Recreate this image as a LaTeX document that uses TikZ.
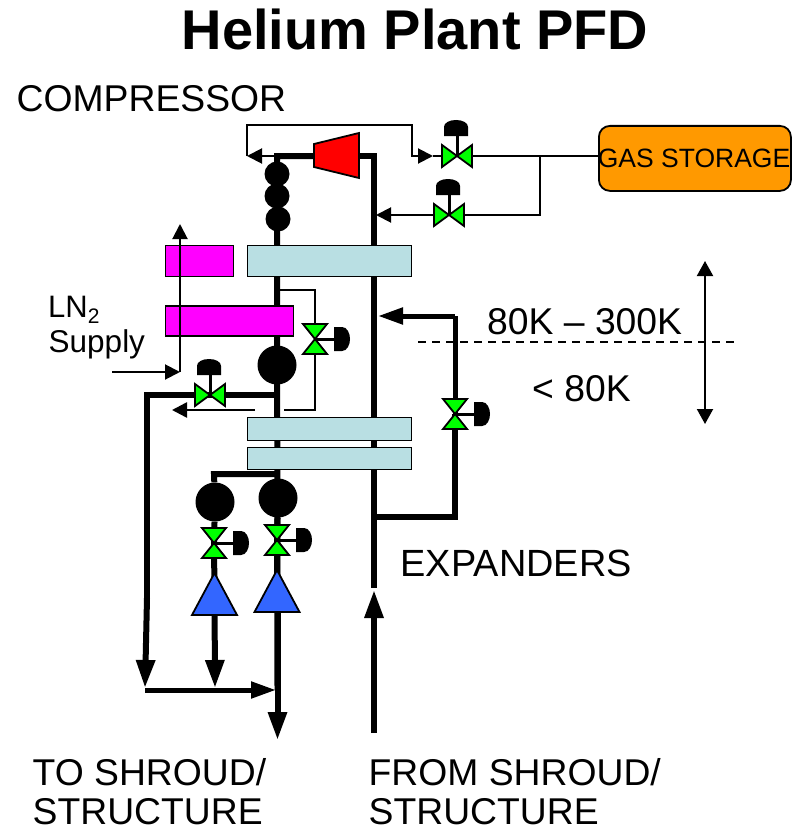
\documentclass[tikz,border=0pt]{standalone}
\usepackage{fontspec}
\setmainfont{Liberation Sans}
\usetikzlibrary{arrows.meta,backgrounds}
\definecolor{hx}{HTML}{B9DFE3}
\definecolor{mag}{HTML}{FF00FF}
\definecolor{stor}{HTML}{FF9900}
\definecolor{vgreen}{HTML}{00FF00}
\definecolor{exblue}{HTML}{3366FF}
\tikzset{
  x=1pt,y=-1pt,
  pipe/.style={line width=6pt,line join=miter,black},
  midpipe/.style={line width=5pt,line join=miter,black},
  thinpipe/.style={line width=2pt,line join=miter,black},
  headS/.style={-{Triangle[length=15pt,width=15pt]}},
  headL/.style={-{Triangle[length=28pt,width=18pt]}},
  headM/.style={-{Triangle[length=25pt,width=16pt]}},
  box/.style={draw=black,line width=1.8pt,inner sep=0pt,anchor=north west},
  hxbox/.style={box,fill=hx,minimum width=164pt},
  magbox/.style={box,fill=mag},
  drum/.style={circle,fill=black,inner sep=0pt},
  label/.style={anchor=base west,inner sep=0pt,font=\fontsize{37.3}{40}\selectfont},
  valveh/.pic={
    \draw[line width=3pt] (0,0)--(0,-22);
    \fill (-13,-20)--(-13,-29) .. controls (-13,-33) and (-8,-36) .. (-1,-36) .. controls (6,-36) and (11,-33) .. (11,-29)--(11,-20)--cycle;
    \draw[fill=vgreen,line width=1.8pt,line join=miter] (-15,-11)--(15,11)--(15,-11)--(-15,11)--cycle;
    \draw[line width=2pt] (0,-4)--(0,0);
  },
  valvev/.pic={
    \draw[line width=3pt] (0,0)--(21,0);
    \fill (19,-12)--(27,-12) .. controls (32,-12) and (35,-6) .. (35,0) .. controls (35,6) and (32,12) .. (27,12)--(19,12)--cycle;
    \draw[fill=vgreen,line width=1.8pt,line join=miter] (-12,-15)--(12,15)--(-12,15)--(12,-15)--cycle;
  },
  expander/.pic={
    \draw[fill=exblue,line width=1.8pt,line join=miter] (0,-21)--(22.5,21)--(-22.5,21)--cycle;
  },
}
\begin{document}
\begin{tikzpicture}
\useasboundingbox (0,0) rectangle (796,832);
% text
\node[anchor=base,inner sep=0pt,font=\fontsize{56}{60}\selectfont\bfseries] (title) at (415,50) {Helium Plant PFD};
\node[label] (tcomp) at (16.5,112) {COMPRESSOR};
\node[label] (ttemp1) at (487,334) {80K – 300K};
\node[label] (ttemp2) at (532,401) {< 80K};
\node[label,font=\fontsize{37.9}{40}\selectfont] (texp) at (400.5,576) {EXPANDERS};
\node[label] (tto1) at (32.5,785) {TO SHROUD/};
\node[label] (tto2) at (32.5,824) {STRUCTURE};
\node[label] (tfrom1) at (368.5,785) {FROM SHROUD/};
\node[label] (tfrom2) at (368.5,824) {STRUCTURE};
\node[anchor=base west,inner sep=0pt,font=\fontsize{31}{34}\selectfont] (tln) at (48,317) {LN\raisebox{-6pt}{\fontsize{21}{24}\selectfont 2}};
\node[anchor=base west,inner sep=0pt,font=\fontsize{31.5}{34}\selectfont] (tsup) at (48.5,352) {Supply};
% equipment
\node[box,fill=stor,rounded corners=11pt,minimum width=192pt,minimum height=65pt] (gas) at (598,125) {};
\node[anchor=base,inner sep=0pt,font=\fontsize{26.5}{28}\selectfont] (tgas) at (694,167) {GAS STORAGE};
\node[hxbox,minimum height=31pt] (hx1) at (246.5,244.5) {};
\node[hxbox,minimum height=23pt] (hx2) at (246.5,416.5) {};
\node[hxbox,minimum height=22pt] (hx3) at (246.5,446.5) {};
\node[magbox,minimum width=68pt,minimum height=31pt] (mg1) at (164.5,244.5) {};
\node[magbox,minimum width=128pt,minimum height=30pt] (mg2) at (164.5,305) {};
\node[drum,minimum size=25pt] (c1) at (277,174) {};
\node[drum,minimum size=25pt] (c2) at (277,196) {};
\node[drum,minimum size=25pt] (c3) at (278,219) {};
\node[drum,minimum size=39pt] (c4) at (277,365) {};
\node[drum,minimum size=39pt] (c5) at (215,502) {};
\node[drum,minimum size=39pt] (c6) at (278,498) {};
\draw[fill=red,line width=1.8pt,line join=miter] (314,144)--(359,133)--(359,178)--(314,167)--cycle;
\coordinate (compL) at (314,156);
\coordinate (compR) at (359,156);
\coordinate (v1) at (457,156);
\coordinate (v2) at (449,215);
\coordinate (v3) at (315,339);
\coordinate (v4) at (210,395);
\coordinate (v5) at (455,414);
\coordinate (v6) at (214,543);
\coordinate (v7) at (277,540);
\coordinate (e1) at (214.5,594);
\coordinate (e2) at (277,591);
\pic at (e1) {expander};
\pic at (e2) {expander};
\pic at (v1) {valveh};
\pic at (v2) {valveh};
\pic at (v4) {valveh};
\pic at (v3) {valvev};
\pic at (v5) {valvev};
\pic at (v6) {valvev};
\pic at (v7) {valvev};
% junction coordinates
\coordinate (topL) at (277,156);
\coordinate (topR) at (374,156);
\coordinate (mainEnd) at (374,588);
\coordinate (fromB) at (374,733);
\coordinate (fromT) at (374,590);
\coordinate (toB) at (277.5,740);
\coordinate (j395) at (277,395);
\coordinate (k395) at (147,395);
\coordinate (k598) at (147,598);
\coordinate (k687) at (145,688);
\coordinate (j474) at (277,474);
\coordinate (k474) at (214,474);
\coordinate (bL) at (145,690);
\coordinate (bR) at (276,690);
\coordinate (b2) at (215,688);
\coordinate (xj) at (374,517);
\coordinate (xc) at (455,517);
\coordinate (xt) at (455,316);
\coordinate (xa) at (378,316);
\coordinate (lpA) at (278,156);
\coordinate (lpB) at (247,156);
\coordinate (lpC) at (247,125);
\coordinate (lpD) at (412,125);
\coordinate (lpE) at (412,156);
\coordinate (lpF) at (433,156);
\coordinate (gj) at (540,156);
\coordinate (gk) at (540,215);
\coordinate (ga2) at (376,215);
\coordinate (ln0) at (112,372);
\coordinate (ln1) at (180,372);
\coordinate (ln2) at (180,224);
\coordinate (bp1) at (280,290);
\coordinate (bp2) at (315,290);
\coordinate (bp3) at (315,410);
\coordinate (bp4) at (284,410);
\coordinate (ba1) at (255,410);
\coordinate (ba2) at (172,410);
\coordinate (dL) at (418,342);
\coordinate (dR) at (735,342);
\coordinate (tA) at (705,261);
\coordinate (tB) at (705,424);
% pipes behind the equipment
\begin{scope}[on background layer]
  \draw[pipe] (compL)--(topL)--(toB |- bR);
  \draw[pipe] (compR)--(topR)--(mainEnd);
  \draw[pipe] (j395)--(k395)--(k598);
  \draw[pipe,headL] (k598)--(k687);
  \draw[pipe] (j474)--(k474)--(c5);
  \draw[pipe] (c5)--(v6)--(e1);
  \draw[pipe] (c6)--(v7)--(e2);
  \draw[pipe,headL] (e1)--(b2);
  \draw[pipe,headL] (toB |- e2)--(toB);
  \draw[pipe,headL] (fromB)--(fromT);
  \draw[pipe] (xj)--(xc)--(v5);
  \draw[midpipe] (v5)--(xt);
  \draw[midpipe,headM] (xt)--(xa);
  \draw[thinpipe,headS] (lpA)--(lpB);
  \draw[thinpipe,headS] (lpB)--(lpC)--(lpD)--(lpE)--(lpF);
  \draw[thinpipe] (lpF)--(v1)--(gas.west |- v1);
  \draw[thinpipe] (gj)--(gk)--(v2);
  \draw[thinpipe,headS] (v2)--(ga2);
  \draw[thinpipe] (bp1)--(bp2)--(bp3)--(bp4);
\end{scope}
% pipes in front
\draw[midpipe,headM] (bL)--(bR);
\draw[thinpipe,headS] (ln0)--(ln1);
\draw[thinpipe,headS] (ln1)--(ln2);
\draw[line width=2.5pt,headS] (ba1)--(ba2);
\draw[line width=1.3pt,dash pattern=on 8pt off 6pt] (dL)--(dR);
\draw[thinpipe,{Triangle[length=15pt,width=16pt]}-{Triangle[length=15pt,width=16pt]}] (tA)--(tB);
\end{tikzpicture}
\end{document}
